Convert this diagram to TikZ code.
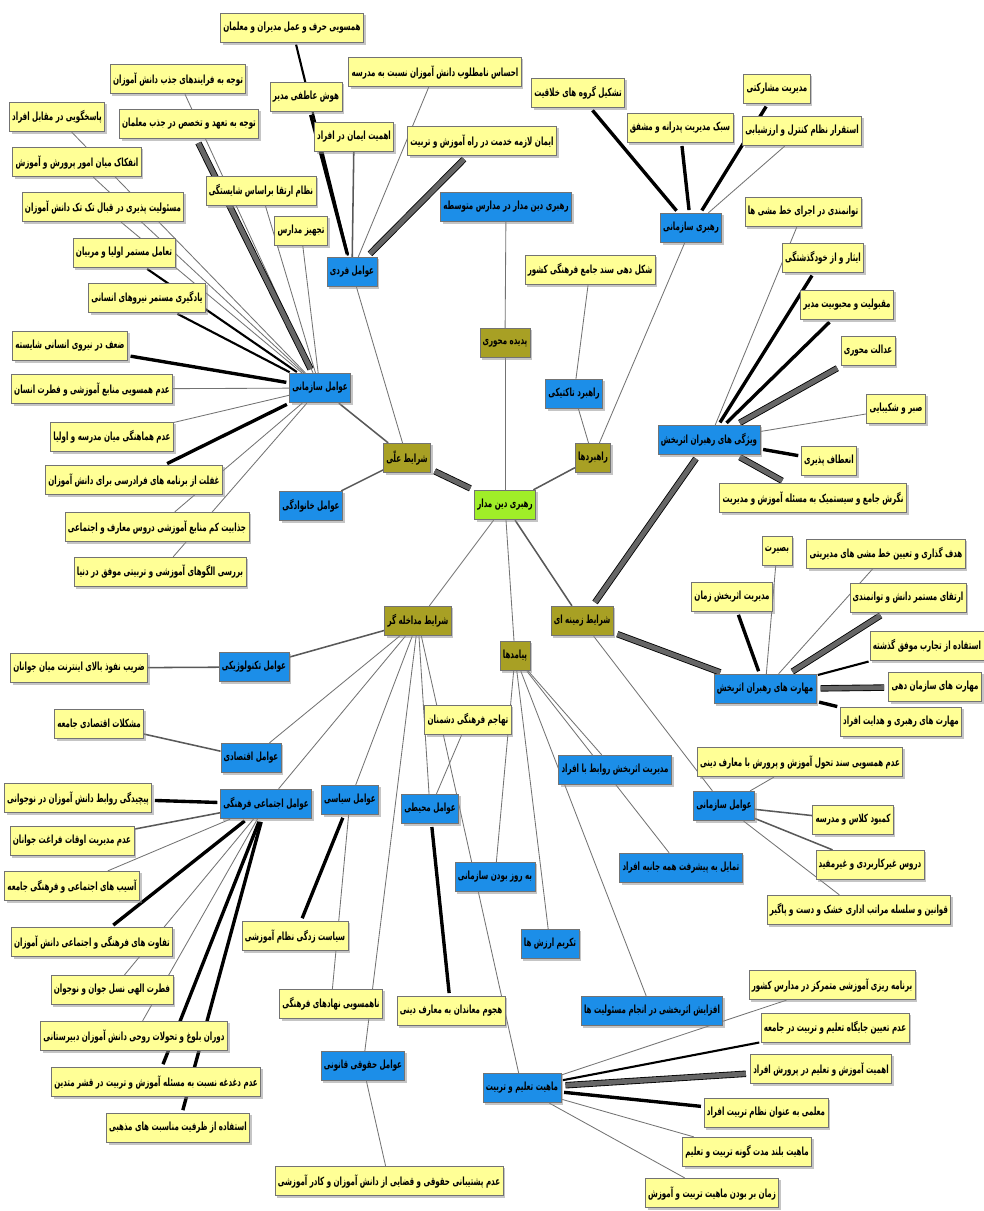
\documentclass[tikz,border=0pt]{standalone}
\usepackage{fontspec}
\usepackage{tikz}
\usetikzlibrary{shadows,backgrounds}
\TeXXeTstate=1
\newfontfamily\fafont[Script=Arabic,FakeStretch=0.63]{DejaVu Sans}
\newcommand{\fatext}[1]{{\fafont\bfseries\beginR #1\endR}}
\definecolor{leafyellow}{RGB}{255,255,150}
\definecolor{factorblue}{RGB}{28,142,232}
\definecolor{catolive}{RGB}{168,160,36}
\definecolor{coregreen}{RGB}{160,238,40}

\begin{document}
\begin{tikzpicture}[x=0.025cm,y=-0.025cm,
    box/.style={draw=black!55,line width=0.5pt,inner xsep=2pt,inner ysep=1pt,minimum height=0.74cm,
        font=\fontsize{8}{9}\selectfont,
        drop shadow={shadow xshift=1.6pt,shadow yshift=-1.6pt,fill=black!45}},
    leaf/.style={box,fill=leafyellow},
    factor/.style={box,fill=factorblue},
    cat/.style={box,fill=catolive},
    core/.style={box,fill=coregreen},
    ln/.style={draw=black!55,line width=0.6pt},
    lm/.style={draw=black!65,line width=1.1pt},
    lb/.style={draw=black,line width=1.5pt,shorten <=1pt,shorten >=1pt},
    lk/.style={draw=black,line width=2.4pt,shorten <=2pt,shorten >=2pt},
    lg/.style={draw=black,double=black!60,double distance=3.4pt,line width=0.6pt,shorten <=3pt,shorten >=3pt}]

    \useasboundingbox (0,0) rectangle (984,1211);

    % Core and categories
    \node[core] (core) at (505,505) {\fatext{رهبری دین مدار}};
    \foreach \n/\x/\y/\t in {phen/505/343/پدیده محوری, cause/407/458/شرایط علّی,
        strat/593/458/راهبردها, interv/418/621/شرایط مداخله گر,
        ctx/582/621/شرایط زمینه ای, cons/515/656/پیامدها} {
        \node[cat] (\n) at (\x,\y) {\fatext{\t}};
    }

    % Factors
    \foreach \n/\x/\y/\t in {top/506/207/رهبری دین مدار در مدارس متوسطه,
        fard/352/272/عوامل فردی, sazl/320/388/عوامل سازمانی, khan/311/506/عوامل خانوادگی,
        rsaz/691/228/رهبری سازمانی, rtak/574/394/راهبرد تاکتیکی,
        vij/709/440/ویژگی های رهبران اثربخش, mah/765/689/مهارت های رهبران اثربخش,
        sazr/724/806/عوامل سازمانی, tech/254/667/عوامل تکنولوژیکی,
        eqt/251/758/عوامل اقتصادی, ejt/266/804/عوامل اجتماعی فرهنگی,
        siy/350/800/عوامل سیاسی, mohi/430/809/عوامل محیطی,
        hoq/363/1066/عوامل حقوقی قانونی, mahiat/522/1088/ماهیت تعلیم و تربیت,
        rav/615/770/مدیریت اثربخش روابط با افراد, tama/681/868/تمایل به پیشرفت همه جانبه افراد,
        bruz/495/877/به روز بودن سازمانی, takr/550/944/تکریم ارزش ها,
        afz/652/1011/افزایش اثربخشی در انجام مسئولیت ها} {
        \node[factor] (\n) at (\x,\y) {\fatext{\t}};
    }

    % Individual and organisational factors
    \foreach \n/\x/\y/\t in {f1/292/28/همسویی حرف و عمل مدیران و معلمان,
        f2/306/97/هوش عاطفی مدیر, f3/354/137/اهمیت ایمان در افراد,
        f4/435/72/احساس نامطلوب دانش آموزان نسبت به مدرسه,
        f5/482/141/ایمان لازمه خدمت در راه آموزش و تربیت,
        s1/178/79/توجه به فرایندهای جذب دانش آموزان,
        s2/189/124/توجه به تعهد و تخصص در جذب معلمان,
        s3/57/117/پاسخگویی در مقابل افراد, s4/77/162/انفکاک میان امور پرورش و آموزش,
        s5/103/207/مسئولیت پذیری در قبال تک تک دانش آموزان,
        s6/124/253/تعامل مستمر اولیا و مربیان, s7/147/298/یادگیری مستمر نیروهای انسانی,
        s8/261/191/نظام ارتقا براساس شایستگی, s9/301/231/تجهیز مدارس,
        s10/70/346/ضعف در نیروی انسانی شایسته,
        s11/92/389/عدم همسویی منابع آموزشی و فطرت انسان,
        s12/112/437/عدم هماهنگی میان مدرسه و اولیا,
        s13/134/480/غفلت از برنامه های فرادرسی برای دانش آموزان,
        s14/157/527/جذابیت کم منابع آموزشی دروس معارف و اجتماعی,
        s15/160/572/بررسی الگوهای آموزشی و تربیتی موفق در دنیا,
        r1/590/270/شکل دهی سند جامع فرهنگی کشور} {
        \node[leaf] (\n) at (\x,\y) {\fatext{\t}};
    }

    % Leadership traits and skills
    \foreach \n/\x/\y/\t in {o1/578/93/تشکیل گروه های خلاقیت,
        o2/680/128/سبک مدیریت پدرانه و مشفق, o3/777/89/مدیریت مشارکتی,
        o4/802/131/استقرار نظام کنترل و ارزشیابی,
        v1/803/212/توانمندی در اجرای خط مشی ها, v2/823/258/ایثار و از خودگذشتگی,
        v3/847/305/مقبولیت و محبوبیت مدیر, v4/868/351/عدالت محوری,
        v5/896/409/صبر و شکیبایی, v6/829/461/انعطاف پذیری,
        v7/813/498/نگرش جامع و سیستمیک به مسئله آموزش و مدیریت,
        m1/777/551/بصیرت, m2/732/597/مدیریت اثربخش زمان,
        m3/886/554/هدف گذاری و تعیین خط مشی های مدیریتی,
        m4/908/598/ارتقای مستمر دانش و توانمندی, m5/927/646/استفاده از تجارب موفق گذشته,
        m6/935/687/مهارت های سازمان دهی, m7/901/722/مهارت های رهبری و هدایت افراد,
        z1/800/762/عدم همسویی سند تحول آموزش و پرورش با معارف دینی,
        z2/853/820/کمبود کلاس و مدرسه, z3/870/865/دروس غیرکاربردی و غیرمفید,
        z4/859/910/قوانین و سلسله مراتب اداری خشک و دست و پاگیر} {
        \node[leaf] (\n) at (\x,\y) {\fatext{\t}};
    }

    % Intervening factors and nature of education
    \foreach \n/\x/\y/\t in {t1/79/668/ضریب نفوذ بالای اینترنت میان جوانان,
        e1/99/724/مشکلات اقتصادی جامعه,
        j1/78/798/پیچیدگی روابط دانش آموزان در نوجوانی,
        j2/72/841/عدم مدیریت اوقات فراغت جوانان,
        j3/72/886/آسیب های اجتماعی و فرهنگی جامعه,
        j4/92/942/تفاوت های فرهنگی و اجتماعی دانش آموزان,
        j5/112/990/فطرت الهی نسل جوان و نوجوان,
        j6/134/1036/دوران بلوغ و تحولات روحی دانش آموزان دبیرستانی,
        j7/156/1082/عدم دغدغه نسبت به مسئله آموزش و تربیت در قشر متدین,
        j8/178/1128/استفاده از ظرفیت مناسبت های مذهبی,
        p1/295/936/سیاست زدگی نظام آموزشی, p2/331/1004/ناهمسویی نهادهای فرهنگی,
        h1/468/720/تهاجم فرهنگی دشمنان, h2/451/1011/هجوم معاندان به معارف دینی,
        q1/389/1181/عدم پشتیبانی حقوقی و قضایی از دانش آموزان و کادر آموزشی,
        a1/832/985/برنامه ریزی آموزشی متمرکز در مدارس کشور,
        a2/835/1028/عدم تعیین جایگاه تعلیم و تربیت در جامعه,
        a3/821/1069/اهمیت آموزش و تعلیم در پرورش افراد,
        a4/766/1113/معلمی به عنوان نظام تربیت افراد,
        a5/747/1152/ماهیت بلند مدت گونه تربیت و تعلیم,
        a6/712/1193/زمان بر بودن ماهیت تربیت و آموزش} {
        \node[leaf] (\n) at (\x,\y) {\fatext{\t}};
    }

    % Connections
    \begin{scope}[on background layer]
        \foreach \a/\b in {top/phen, phen/core, core/interv, core/cons, cause/fard,
            strat/rtak, rtak/r1, strat/rsaz, o4/rsaz, f4/fard,
            s1/sazl, s3/sazl, s4/sazl, s5/sazl, s8/sazl, s9/sazl, s11/sazl,
            s12/sazl, s14/sazl, s15/sazl, ctx/sazr, v1/vij, v5/vij, m1/mah, m3/mah,
            z1/sazr, z4/sazr, cons/bruz, cons/takr, cons/rav, cons/tama, cons/afz,
            interv/eqt, interv/ejt, interv/siy, interv/hoq, interv/mohi, interv/mahiat,
            siy/p2, mohi/h1, hoq/q1, ejt/j3, ejt/j5, ejt/j6, mahiat/a1, mahiat/a5, mahiat/a6}
            \draw[ln] (\a) -- (\b);
        \foreach \a/\b in {core/strat, core/ctx, cause/sazl, cause/khan, f3/fard,
            interv/tech, tech/t1, eqt/e1, ejt/j2, sazr/z2, sazr/z3}
            \draw[lm] (\a) -- (\b);
        \foreach \a/\b in {f1/fard, s6/sazl, s7/sazl, m5/mah, mahiat/a2}
            \draw[lb] (\a) -- (\b);
        \foreach \a/\b in {f2/fard, o1/rsaz, o2/rsaz, o3/rsaz, s10/sazl, s13/sazl,
            v2/vij, v3/vij, v6/vij, m2/mah, m7/mah, ejt/j1, ejt/j4, ejt/j7, ejt/j8,
            siy/p1, mohi/h2, mahiat/a4}
            \draw[lk] (\a) -- (\b);
        \foreach \a/\b in {core/cause, f5/fard, s2/sazl, ctx/vij, ctx/mah, v4/vij,
            v7/vij, m4/mah, m6/mah, mahiat/a3}
            \draw[lg] (\a) -- (\b);
    \end{scope}
\end{tikzpicture}
\end{document}
